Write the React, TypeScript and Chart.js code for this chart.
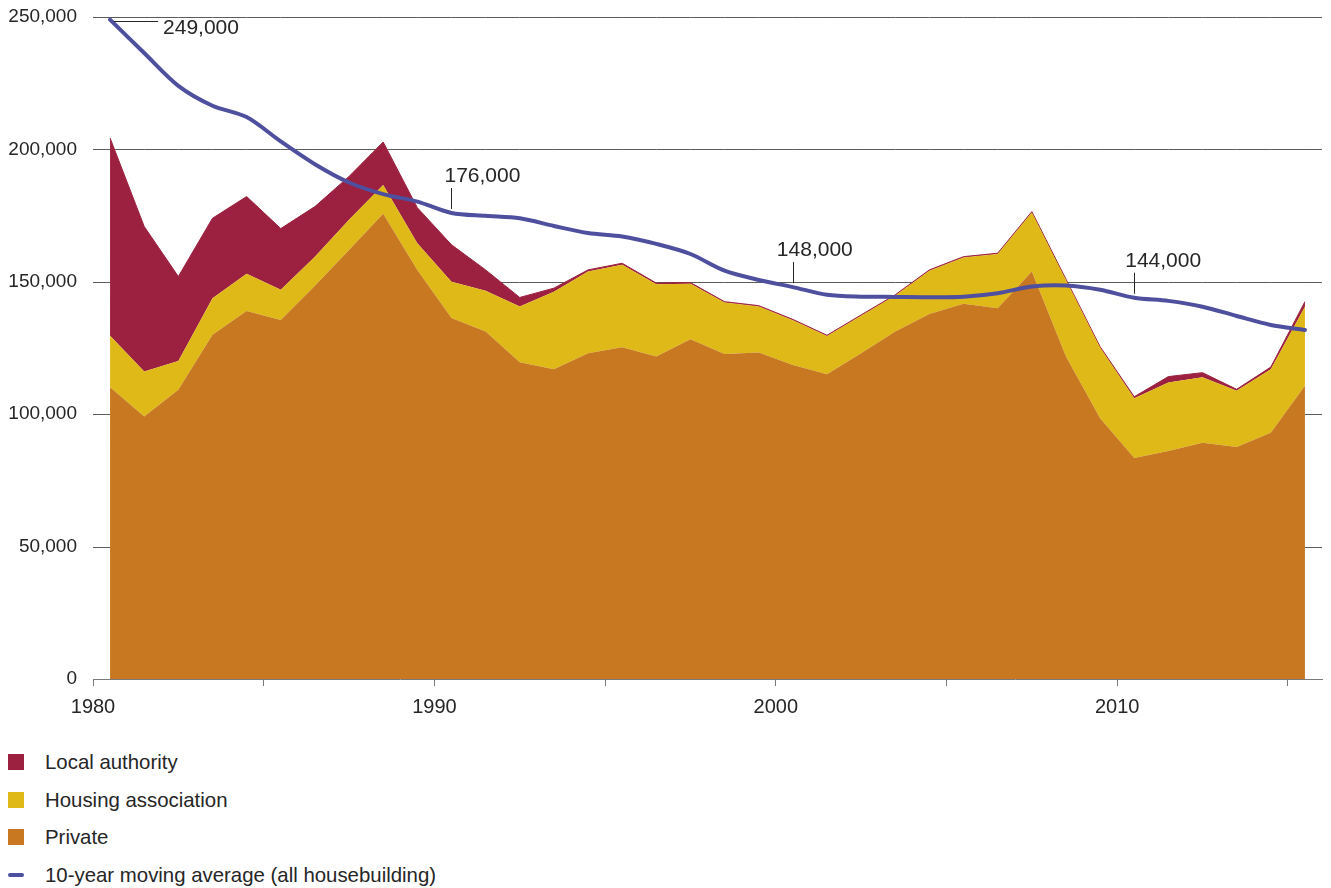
import React, { useEffect, useRef } from 'react';
import { Chart, registerables } from 'chart.js';

Chart.register(...registerables);

// Completions by year (England, financial years plotted at mid-year)
const years = [
  1980, 1981, 1982, 1983, 1984, 1985, 1986, 1987, 1988, 1989,
  1990, 1991, 1992, 1993, 1994, 1995, 1996, 1997, 1998, 1999,
  2000, 2001, 2002, 2003, 2004, 2005, 2006, 2007, 2008, 2009,
  2010, 2011, 2012, 2013, 2014, 2015,
];

const privateBuild = [
  110200, 99100, 109200, 130000, 139000, 135600, 148500, 162000, 175700, 154500,
  136300, 131200, 119600, 117000, 123000, 125300, 121800, 128300, 122700, 123300,
  118600, 115100, 123000, 131200, 137800, 141700, 140000, 153900, 121800, 98500,
  83500, 86100, 89200, 87600, 93000, 110700,
];

const housingAssociation = [
  19400, 17000, 10900, 13800, 14000, 11400, 11000, 11400, 10900, 10100,
  13700, 15400, 21100, 29200, 30900, 31100, 27300, 21000, 19500, 17400,
  16900, 14400, 14200, 13600, 16400, 17500, 20500, 22300, 28900, 26700,
  22500, 25900, 24800, 21300, 24000, 29900,
];

const localAuthority = [
  74700, 54800, 31900, 30200, 29200, 23100, 18900, 16400, 16200, 13400,
  14000, 7900, 3400, 1400, 600, 600, 400, 400, 300, 300,
  300, 300, 300, 300, 300, 300, 300, 300, 300, 300,
  600, 2200, 1700, 500, 800, 1900,
];

const movingAverage = [
  249000, 236400, 224000, 216500, 212200, 203000, 194400, 187500, 183100, 180300,
  176000, 174900, 174000, 171100, 168400, 167100, 164300, 160500, 154200, 150700,
  148000, 145100, 144400, 144300, 144200, 144400, 145700, 148200, 148600, 147000,
  144000, 142800, 140600, 137100, 133700, 131800,
];

// Years whose moving-average value is called out on the chart
const calloutYears = [1980, 1990, 2000, 2010];
const xLabelYears = [1980, 1990, 2000, 2010];
const yTickValues = [0, 50000, 100000, 150000, 200000, 250000];

const seriesNames = ['Private', 'Housing association', 'Local authority', '10-year moving average (all housebuilding)'];

const COLORS = {
  private: '#c77820',
  housing: '#dfb917',
  local: '#9c2140',
  average: '#4f4f9f',
  text: '#262626',
  grid: '#5c5c5c',
  axis: '#7a7a7a',
};

const FONT = "'Liberation Sans', Arial, Helvetica, sans-serif";

// Horizontal value gridlines: only the parts lying above the stacked total are drawn,
// so the areas read as sitting in front of them.
const gridPlugin = {
  id: 'underGrid',
  beforeDatasetsDraw(chart: any) {
    const { ctx, chartArea } = chart;
    const xs = chart.scales.x;
    const ys = chart.scales.y;
    const totals = years.map((_, i) => privateBuild[i] + housingAssociation[i] + localAuthority[i]);
    const px = years.map((yr) => xs.getPixelForValue(yr + 0.5));
    ctx.save();
    ctx.strokeStyle = COLORS.grid;
    ctx.lineWidth = 1;
    yTickValues.forEach((v) => {
      if (v === 0) return;
      const y = Math.round(ys.getPixelForValue(v)) + 0.5;
      const spans: [number, number][] = [[chartArea.left, px[0]]];
      for (let i = 0; i < years.length - 1; i++) {
        const a = totals[i];
        const b = totals[i + 1];
        if (a < v && b < v) spans.push([px[i], px[i + 1]]);
        else if (a < v || b < v) {
          const t = (v - a) / (b - a);
          const xc = px[i] + t * (px[i + 1] - px[i]);
          spans.push(a < v ? [px[i], xc] : [xc, px[i + 1]]);
        }
      }
      spans.push([px[years.length - 1], chartArea.right]);
      ctx.beginPath();
      spans.forEach(([x0, x1]) => {
        ctx.moveTo(x0, y);
        ctx.lineTo(x1, y);
      });
      ctx.stroke();
    });
    ctx.restore();
  },
};

// Callout placement: first one sits beside the line, the rest above it
const calloutLayout = [
  { side: true, dx: 53 },
  { side: false, dx: -7 },
  { side: false, dx: -16 },
  { side: false, dx: -9 },
];

const calloutPlugin = {
  id: 'callouts',
  afterDatasetsDraw(chart: any) {
    const { ctx } = chart;
    const xs = chart.scales.x;
    const ys = chart.scales.y;
    ctx.save();
    ctx.strokeStyle = COLORS.text;
    ctx.fillStyle = COLORS.text;
    ctx.lineWidth = 1;
    ctx.font = `21px ${FONT}`;
    ctx.textAlign = 'left';
    ctx.textBaseline = 'alphabetic';
    calloutYears.forEach((yr, k) => {
      const i = years.indexOf(yr);
      const value = movingAverage[i];
      const px = xs.getPixelForValue(yr + 0.5);
      const py = ys.getPixelForValue(value);
      const text = value.toLocaleString('en-US');
      const lay = calloutLayout[k];
      ctx.beginPath();
      if (lay.side) {
        const ly = Math.round(py + 1) + 0.5;
        ctx.moveTo(px + 4, ly);
        ctx.lineTo(px + 48, ly);
        ctx.stroke();
        ctx.fillText(text, px + lay.dx, py + 14.5);
      } else {
        const lx = Math.round(px) + 0.5;
        ctx.moveTo(lx, py - 25);
        ctx.lineTo(lx, py - 4);
        ctx.stroke();
        ctx.fillText(text, px + lay.dx, py - 31);
      }
    });
    ctx.restore();
  },
};

function ChartCanvas() {
  const ref = useRef<HTMLCanvasElement | null>(null);

  useEffect(() => {
    if (!ref.current) return;
    const pts = (vals: number[]) => vals.map((v, i) => ({ x: years[i] + 0.5, y: v }));

    const chart = new Chart(ref.current, {
      type: 'line',
      data: {
        datasets: [
          {
            label: seriesNames[0],
            data: pts(privateBuild),
            backgroundColor: COLORS.private,
            borderWidth: 0,
            borderColor: 'rgba(0,0,0,0)',
            pointRadius: 0,
            fill: 'origin',
            tension: 0,
            stack: 'build',
          },
          {
            label: seriesNames[1],
            data: pts(housingAssociation),
            backgroundColor: COLORS.housing,
            borderWidth: 0,
            borderColor: 'rgba(0,0,0,0)',
            pointRadius: 0,
            fill: '-1',
            tension: 0,
            stack: 'build',
          },
          {
            label: seriesNames[2],
            data: pts(localAuthority),
            backgroundColor: COLORS.local,
            borderWidth: 1,
            borderColor: COLORS.local,
            pointRadius: 0,
            fill: '-1',
            tension: 0,
            stack: 'build',
          },
          {
            label: seriesNames[3],
            data: pts(movingAverage),
            borderColor: COLORS.average,
            backgroundColor: COLORS.average,
            borderWidth: 4,
            borderCapStyle: 'round',
            borderJoinStyle: 'round',
            pointRadius: 0,
            fill: false,
            tension: 0.3,
            stack: 'average',
            order: -1,
          },
        ] as any,
      },
      options: {
        responsive: false,
        animation: false,
        events: [],
        layout: { padding: { top: 17, right: 9, left: 0, bottom: 0 } },
        plugins: {
          legend: { display: false },
          tooltip: { enabled: false },
        },
        scales: {
          x: {
            type: 'linear',
            min: 1980,
            max: 2016,
            afterFit: (s: any) => { s.height = 51; },
            grid: {
              drawOnChartArea: false,
              drawTicks: true,
              tickLength: 7,
              color: COLORS.axis,
            },
            border: { display: true, color: COLORS.axis, width: 1 },
            ticks: {
              stepSize: 5,
              includeBounds: false,
              autoSkip: false,
              maxRotation: 0,
              padding: 9,
              color: COLORS.text,
              font: { family: FONT, size: 20 },
              callback: (v: any) => (xLabelYears.includes(Number(v)) ? String(v) : ''),
            },
          },
          y: {
            stacked: true,
            min: 0,
            max: 250000,
            afterFit: (s: any) => {
              s.width = 93;
              s.paddingTop = 0;
              s.paddingBottom = 0;
            },
            grid: { display: false, drawTicks: false },
            border: { display: false },
            ticks: {
              stepSize: 50000,
              padding: 16,
              color: COLORS.text,
              font: { family: FONT, size: 19 },
              callback: (v: any) => Number(v).toLocaleString('en-US'),
            },
          },
        },
      },
      plugins: [gridPlugin, calloutPlugin],
    });
    return () => chart.destroy();
  }, []);

  return <canvas ref={ref} width={1331} height={730} style={{ display: 'block' }} />;
}

const legendItems = [
  { name: seriesNames[2], color: COLORS.local, line: false },
  { name: seriesNames[1], color: COLORS.housing, line: false },
  { name: seriesNames[0], color: COLORS.private, line: false },
  { name: seriesNames[3], color: COLORS.average, line: true },
];

export default function App() {
  return (
    <div style={{ position: 'absolute', left: 0, top: 0, width: 1331, height: 888, background: '#fff', fontFamily: FONT }}>
      <ChartCanvas />
      {legendItems.map((item, k) => {
        const cy = 762 + k * 37.6;
        return (
          <div key={item.name} style={{ position: 'absolute', left: 0, top: cy - 15, height: 30, width: 600 }}>
            {item.line ? (
              <div style={{ position: 'absolute', left: 8, top: 13, width: 16, height: 4, borderRadius: 2, background: item.color }} />
            ) : (
              <div style={{ position: 'absolute', left: 8, top: 7, width: 16, height: 16, background: item.color }} />
            )}
            <div style={{ position: 'absolute', left: 45, top: 0, lineHeight: '30px', fontSize: 20.4, color: COLORS.text, whiteSpace: 'nowrap' }}>
              {item.name}
            </div>
          </div>
        );
      })}
    </div>
  );
}
